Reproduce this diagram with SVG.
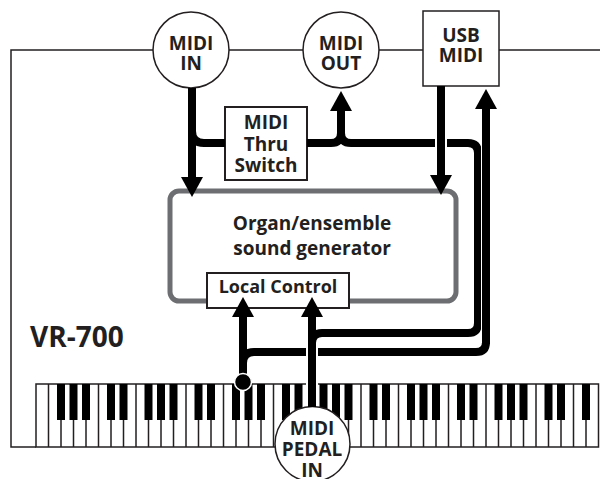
<svg xmlns="http://www.w3.org/2000/svg" width="600" height="479" viewBox="0 0 600 479">
<style>
.t{font-family:"Open Sans","Liberation Sans",sans-serif;font-weight:700;font-size:19px;fill:#231f20;text-anchor:middle}
.ln{fill:none;stroke:#231f20;stroke-width:1.5}
.bx{fill:#fff;stroke:#231f20;stroke-width:2}
.c{fill:none;stroke:#000;stroke-width:8}
.h{fill:none;stroke:#fff;stroke-width:12}
.bk{fill:#000}
</style>
<defs>
<marker id="ah" viewBox="0 0 20 22" refX="2" refY="11" markerWidth="20" markerHeight="22" markerUnits="userSpaceOnUse" orient="auto">
<path d="M0,0 L20,11 L0,22 Z" fill="#000"/>
</marker>
</defs>
<rect width="600" height="479" fill="#fff"/>
<g id="frame">
<path class="ln" d="M600,50 H11 V447 H36"/>
</g>
<g id="keyboard">
<rect x="36" y="384" width="562.5" height="63" fill="#fff" stroke="#231f20" stroke-width="1.5"/>
<path class="ln" stroke-width="1.3" d="M48.5,384V447M61,384V447M73.5,384V447M86,384V447M98.5,384V447M111,384V447M123.5,384V447M136,384V447M148.5,384V447M161,384V447M173.5,384V447M186,384V447M198.5,384V447M211,384V447M223.5,384V447M236,384V447M248.5,384V447M261,384V447M273.5,384V447M286,384V447M298.5,384V447M311,384V447M323.5,384V447M336,384V447M348.5,384V447M361,384V447M373.5,384V447M386,384V447M398.5,384V447M411,384V447M423.5,384V447M436,384V447M448.5,384V447M461,384V447M473.5,384V447M486,384V447M498.5,384V447M511,384V447M523.5,384V447M536,384V447M548.5,384V447M561,384V447M573.5,384V447M586,384V447"/>
<g class="bk">
<rect x="57" y="384" width="8" height="36"/><rect x="69.5" y="384" width="8" height="36"/><rect x="82" y="384" width="8" height="36"/>
<rect x="107" y="384" width="8" height="36"/><rect x="119.5" y="384" width="8" height="36"/>
<rect x="144.5" y="384" width="8" height="36"/><rect x="157" y="384" width="8" height="36"/><rect x="169.5" y="384" width="8" height="36"/>
<rect x="194.5" y="384" width="8" height="36"/><rect x="207" y="384" width="8" height="36"/>
<rect x="232" y="384" width="8" height="36"/><rect x="244.5" y="384" width="8" height="36"/><rect x="257" y="384" width="8" height="36"/>
<rect x="282" y="384" width="8" height="36"/><rect x="294.5" y="384" width="8" height="36"/>
<rect x="319.5" y="384" width="8" height="36"/><rect x="332" y="384" width="8" height="36"/><rect x="344.5" y="384" width="8" height="36"/>
<rect x="369.5" y="384" width="8" height="36"/><rect x="382" y="384" width="8" height="36"/>
<rect x="407" y="384" width="8" height="36"/><rect x="419.5" y="384" width="8" height="36"/><rect x="432" y="384" width="8" height="36"/>
<rect x="457" y="384" width="8" height="36"/><rect x="469.5" y="384" width="8" height="36"/>
<rect x="494.5" y="384" width="8" height="36"/><rect x="507" y="384" width="8" height="36"/><rect x="519.5" y="384" width="8" height="36"/>
<rect x="544.5" y="384" width="8" height="36"/><rect x="557" y="384" width="8" height="36"/>
<rect x="582" y="384" width="8" height="36"/>
</g>
</g>
<g id="sound-generator">
<rect x="170" y="191" width="286" height="110" rx="9" fill="#fff" stroke="#6d6e71" stroke-width="5"/>
<text class="t" x="312" y="230">Organ/ensemble</text>
<text class="t" x="312" y="255">sound generator</text>
</g>
<g id="local-control">
<rect class="bx" x="207" y="273" width="142" height="35"/>
<text class="t" x="278" y="293" style="font-size:18px">Local Control</text>
</g>
<g id="midi-thru-switch">
<rect class="bx" x="225" y="107" width="82" height="73"/>
<text class="t" x="266" y="129">MIDI</text>
<text class="t" x="266" y="151">Thru</text>
<text class="t" x="266" y="172">Switch</text>
</g>
<g id="midi-in">
<circle cx="191" cy="50" r="38" fill="#fff" stroke="#231f20" stroke-width="1.5"/>
<text class="t" x="191" y="50">MIDI</text>
<text class="t" x="191" y="70">IN</text>
</g>
<g id="midi-out">
<circle cx="341" cy="50" r="38" fill="#fff" stroke="#231f20" stroke-width="1.5"/>
<text class="t" x="341" y="50">MIDI</text>
<text class="t" x="341" y="70">OUT</text>
</g>
<g id="usb-midi">
<rect x="423" y="11" width="76" height="75" fill="#fff" stroke="#231f20" stroke-width="1.5"/>
<text class="t" x="461" y="42">USB</text>
<text class="t" x="461" y="62">MIDI</text>
</g>
<g id="midi-pedal-in">
<circle cx="312.5" cy="444" r="37.5" fill="#fff" stroke="#231f20" stroke-width="1.5"/>
<text class="t" x="312" y="435">MIDI</text>
<text class="t" x="312" y="456">PEDAL</text>
<text class="t" x="312" y="477">IN</text>
</g>
<g id="vr-700">
<text class="t" x="30" y="347" style="font-size:28px;text-anchor:start">VR-700</text>
</g>
<g id="connectors">
<path class="c" d="M192,88 V179" marker-end="url(#ah)"/>
<path class="c" d="M192,131 Q192,143 204,143 H225"/>
<path class="c" d="M307,143 H331 Q341,143 341,133 V109" marker-end="url(#ah)"/>
<path class="c" d="M243,382 V315" marker-end="url(#ah)"/>
<path class="c" d="M243,363 Q243,352 254,352 H476 Q486,352 486,342"/>
<path class="h" d="M312,405 V318"/>
<path class="c" d="M312,407 V315" marker-end="url(#ah)"/>
<path class="c" d="M341,133 Q341,143 351,143 H468 Q478,143 478,153 V323 Q478,333 468,333 H322 Q312,333 312,343"/>
<path class="h" d="M441,87 V177"/>
<path class="c" d="M441,86 V177" marker-end="url(#ah)"/>
<path fill="none" stroke="#fff" stroke-width="10" d="M486,343 V107"/>
<path class="c" d="M486,344 V107" marker-end="url(#ah)"/>
<circle cx="243" cy="382" r="8.5" fill="#000" stroke="#fff" stroke-width="1.5"/>
</g>
</svg>
